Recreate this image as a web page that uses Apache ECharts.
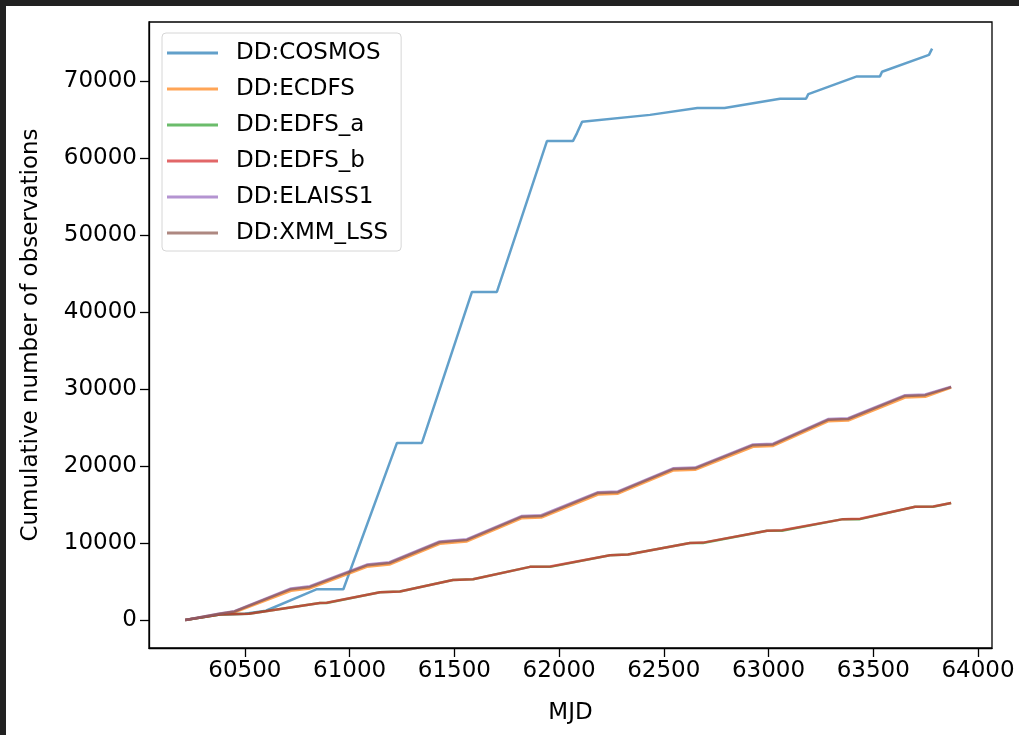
<!DOCTYPE html>
<html>
<head>
<meta charset="utf-8">
<script src="https://cdn.jsdelivr.net/npm/echarts@6/dist/echarts.min.js"></script>
<style>
  html, body { margin: 0; padding: 0; background: #fff; }
  #chart { width: 1019px; height: 735px; }
</style>
</head>
<body>
<div id="chart"></div>
<script>
// cumulative observations per deep drilling field
var seriesNames = ['DD:COSMOS', 'DD:ECDFS', 'DD:EDFS_a', 'DD:EDFS_b', 'DD:ELAISS1', 'DD:XMM_LSS'];

var mjdCosmos = [60215, 60380, 60500, 60600, 60844, 60970, 61226, 61345, 61584, 61703,
                 61942, 62066, 62085, 62110, 62434, 62660, 62790, 63055, 63179, 63190,
                 63422, 63532, 63542, 63766, 63781];
var cosmos = [0, 700, 800, 1200, 4000, 4000, 23000, 23000, 42600, 42600,
              62200, 62200, 63200, 64700, 65600, 66500, 66500, 67700, 67700, 68300,
              70600, 70600, 71200, 73400, 74200];

// the three fields that end near 30000
var mjdWide = [60215, 60380, 60450, 60720, 60810, 61082, 61190, 61430, 61560, 61820, 61915,
               62186, 62281, 62544, 62649, 62926, 63022, 63284, 63380, 63652, 63748, 63872];
var ecdfs = [0, 750, 1000, 3800, 4100, 6900, 7200, 9900, 10200, 13200, 13300,
             16300, 16400, 19400, 19500, 22500, 22600, 25800, 25900, 28900, 29000, 30200];
var elaiss1 = [0, 850, 1150, 4100, 4400, 7200, 7500, 10200, 10500, 13500, 13600,
               16600, 16700, 19700, 19800, 22800, 22900, 26100, 26200, 29200, 29300, 30300];
var xmmLss = [0, 800, 1100, 4000, 4300, 7100, 7400, 10100, 10400, 13400, 13500,
              16500, 16600, 19600, 19700, 22700, 22800, 26000, 26100, 29100, 29200, 30250];

// the two EDFS halves end near 15000
var mjdEdfs = [60215, 60380, 60520, 60858, 60890, 61145, 61240, 61493, 61589, 61861, 61957,
               62243, 62329, 62625, 62687, 62993, 63064, 63356, 63437, 63700, 63786, 63872];
var edfsA = [0, 700, 800, 2200, 2200, 3600, 3700, 5200, 5300, 6900, 6900,
             8400, 8500, 10000, 10000, 11600, 11600, 13100, 13100, 14700, 14700, 15200];
var edfsB = [0, 700, 800, 2200, 2250, 3600, 3700, 5200, 5300, 6900, 6950,
             8400, 8500, 10000, 10050, 11600, 11650, 13100, 13150, 14700, 14750, 15200];

var xTicks = [60500, 61000, 61500, 62000, 62500, 63000, 63500, 64000];
var yTicks = [0, 10000, 20000, 30000, 40000, 50000, 60000, 70000];

var colors = ['rgba(31,119,180,0.7)', 'rgba(255,127,14,0.7)', 'rgba(44,160,44,0.7)',
              'rgba(214,39,40,0.7)', 'rgba(148,103,189,0.7)', 'rgba(140,86,75,0.7)'];

function pairs(xs, ys) {
    return xs.map(function (x, i) { return [x, ys[i]]; });
}

var font = 'DejaVu Sans';
var fontSize = 23;
var seriesData = [
    pairs(mjdCosmos, cosmos),
    pairs(mjdWide, ecdfs),
    pairs(mjdEdfs, edfsA),
    pairs(mjdEdfs, edfsB),
    pairs(mjdWide, elaiss1),
    pairs(mjdWide, xmmLss)
];

var option = {
    animation: false,
    backgroundColor: '#fff',
    color: colors,
    grid: {
        left: 149, right: 27, top: 22, bottom: 87,
        show: true, borderColor: '#000', borderWidth: 1.3
    },
    legend: {
        orient: 'vertical',
        left: 162, top: 33,
        data: seriesNames,
        icon: 'rect',
        itemWidth: 51, itemHeight: 3,
        itemGap: 10,
        padding: [7, 13, 5, 5],
        backgroundColor: 'rgba(255,255,255,0.8)',
        borderColor: '#d6d6d6', borderWidth: 1, borderRadius: 4,
        textStyle: { fontFamily: font, fontSize: fontSize, color: '#000', lineHeight: 26, padding: [0, 0, 0, 13] }
    },
    xAxis: {
        type: 'value',
        min: 60042, max: 64067,
        name: 'MJD', nameLocation: 'middle', nameGap: 54,
        nameTextStyle: { fontFamily: font, fontSize: fontSize, color: '#000' },
        axisLine: { show: true, onZero: false, lineStyle: { color: '#000', width: 1.3 } },
        axisTick: { show: true, customValues: xTicks, length: 9, lineStyle: { color: '#000', width: 1.3 } },
        axisLabel: {
            customValues: xTicks, fontFamily: font, fontSize: fontSize, color: '#000', margin: 12,
            formatter: function (v) { return String(v); }
        },
        splitLine: { show: false }
    },
    yAxis: {
        type: 'value',
        min: -3636, max: 77662,
        name: 'Cumulative number of observations', nameLocation: 'middle', nameGap: 106,
        nameTextStyle: { fontFamily: font, fontSize: fontSize, color: '#000' },
        axisLine: { show: true, onZero: false, lineStyle: { color: '#000', width: 1.3 } },
        axisTick: { show: true, customValues: yTicks, length: 9, lineStyle: { color: '#000', width: 1.3 } },
        axisLabel: {
            customValues: yTicks, fontFamily: font, fontSize: fontSize, color: '#000', margin: 12,
            formatter: function (v) { return String(v); }
        },
        splitLine: { show: false }
    },
    graphic: [
        { type: 'rect', left: 0, top: 0, shape: { width: 1019, height: 6 }, style: { fill: '#212121' } },
        { type: 'rect', left: 0, top: 0, shape: { width: 6, height: 735 }, style: { fill: '#212121' } }
    ],
    series: seriesNames.map(function (name, i) {
        return {
            name: name,
            type: 'line',
            data: seriesData[i],
            symbol: 'none',
            lineStyle: { width: 2.5, color: colors[i] },
            itemStyle: { color: colors[i] }
        };
    })
};

var chart = echarts.init(document.getElementById('chart'));
chart.setOption(option);
</script>
</body>
</html>
